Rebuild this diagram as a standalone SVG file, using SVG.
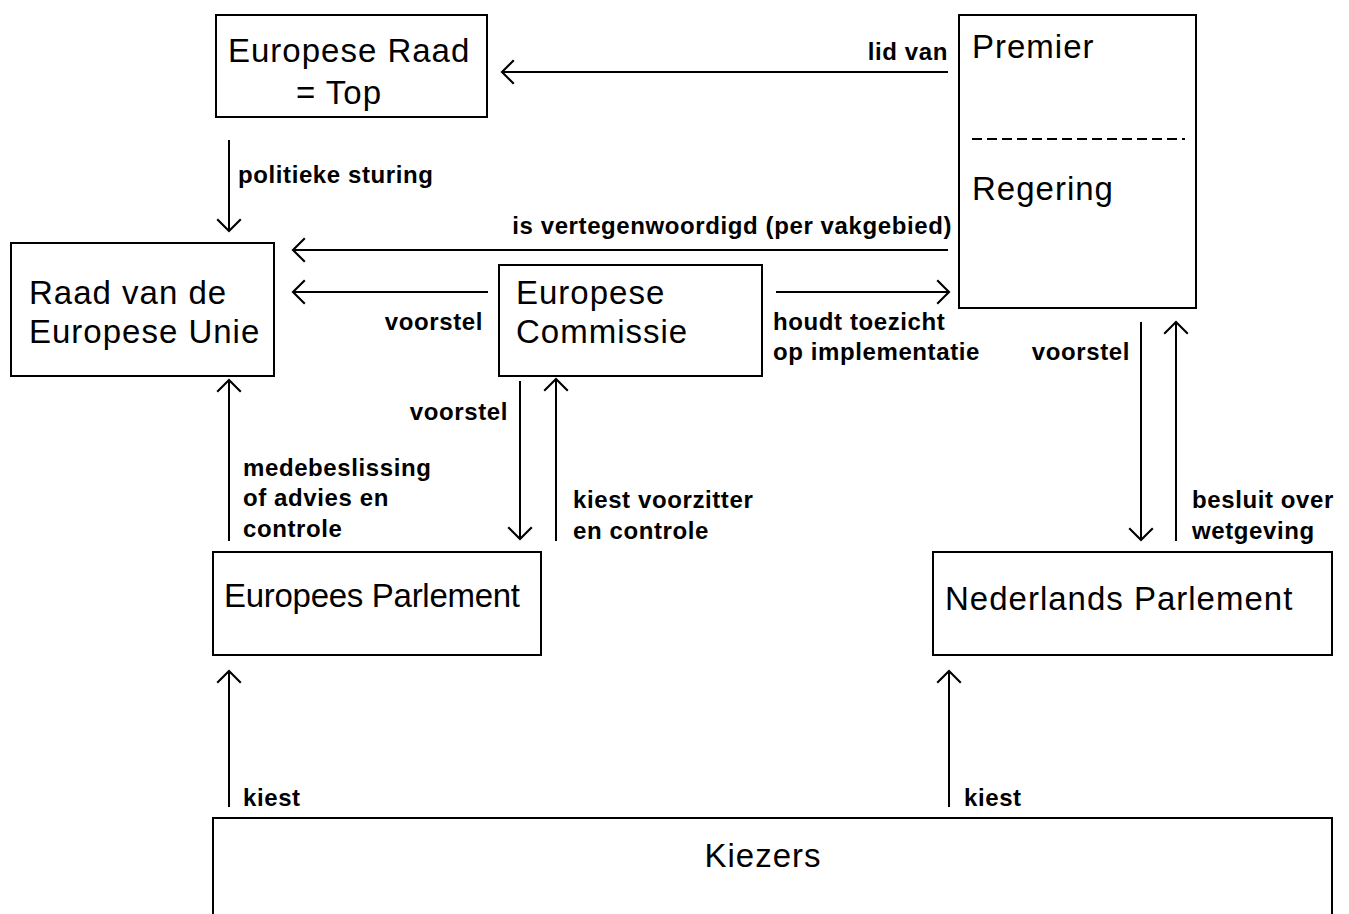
<svg xmlns="http://www.w3.org/2000/svg" width="1349" height="914" viewBox="0 0 1349 914">
<style>
.box{fill:#fff;stroke:#000;stroke-width:2}
.t{font-family:"Liberation Sans",Arial,sans-serif;font-size:33px;letter-spacing:1px;fill:#000}
.l{font-family:"Liberation Sans",Arial,sans-serif;font-size:24px;font-weight:bold;letter-spacing:0.6px;fill:#000}
.c{stroke:#000;stroke-width:2;fill:none;marker-end:url(#ah)}
</style>
<defs>
<marker id="ah" markerUnits="userSpaceOnUse" orient="auto" refX="0" refY="0" markerWidth="30" markerHeight="30" viewBox="-14 -14 28 28" overflow="visible">
<path d="M-11,-11 L0,0 L-11,11" fill="none" stroke="#000" stroke-width="2"/>
</marker>
</defs>
<rect width="1349" height="914" fill="#fff"/>
<g id="europese-raad">
<rect class="box" x="216" y="15" width="271" height="102"/>
<text class="t" x="228" y="62">Europese Raad</text>
<text class="t" x="296" y="104">= Top</text>
</g>
<g id="premier-regering">
<rect class="box" x="959" y="15" width="237" height="293"/>
<text class="t" x="972" y="58">Premier</text>
<line x1="972" y1="139" x2="1185" y2="139" stroke="#000" stroke-width="2" stroke-dasharray="10 5"/>
<text class="t" x="972" y="200">Regering</text>
</g>
<g id="raad-eu">
<rect class="box" x="11" y="243" width="263" height="133"/>
<text class="t" x="29" y="304">Raad van de</text>
<text class="t" x="29" y="343">Europese Unie</text>
</g>
<g id="europese-commissie">
<rect class="box" x="499" y="265" width="263" height="111"/>
<text class="t" x="516" y="304">Europese</text>
<text class="t" x="516" y="343">Commissie</text>
</g>
<g id="europees-parlement">
<rect class="box" x="213" y="552" width="328" height="103"/>
<text class="t" x="224" y="607" style="letter-spacing:0" textLength="296" lengthAdjust="spacing">Europees Parlement</text>
</g>
<g id="nederlands-parlement">
<rect class="box" x="933" y="552" width="399" height="103"/>
<text class="t" x="945" y="610">Nederlands Parlement</text>
</g>
<g id="kiezers">
<rect class="box" x="213" y="818" width="1119" height="120"/>
<text class="t" x="763" y="867" text-anchor="middle">Kiezers</text>
</g>
<g id="connectors">
<line class="c" x1="948" y1="72" x2="502" y2="72"/>
<line class="c" x1="229" y1="140" x2="229" y2="231"/>
<line class="c" x1="948" y1="250" x2="293" y2="250"/>
<line class="c" x1="488" y1="292" x2="293" y2="292"/>
<line class="c" x1="776" y1="292" x2="949" y2="292"/>
<line class="c" x1="520" y1="381" x2="520" y2="539"/>
<line class="c" x1="556" y1="541" x2="556" y2="379"/>
<line class="c" x1="229" y1="541" x2="229" y2="380"/>
<line class="c" x1="1141" y1="322" x2="1141" y2="540"/>
<line class="c" x1="1176" y1="541" x2="1176" y2="322"/>
<line class="c" x1="229" y1="807" x2="229" y2="671"/>
<line class="c" x1="949" y1="807" x2="949" y2="671"/>
<text class="l" x="948" y="60" text-anchor="end">lid van</text>
<text class="l" x="238" y="183">politieke sturing</text>
<text class="l" x="952" y="234" text-anchor="end">is vertegenwoordigd (per vakgebied)</text>
<text class="l" x="483" y="330" text-anchor="end">voorstel</text>
<text class="l" x="773" y="330">houdt toezicht</text>
<text class="l" x="773" y="360">op implementatie</text>
<text class="l" x="508" y="420" text-anchor="end">voorstel</text>
<text class="l" x="1130" y="360" text-anchor="end">voorstel</text>
<text class="l" x="243" y="476">medebeslissing</text>
<text class="l" x="243" y="506">of advies en</text>
<text class="l" x="243" y="537">controle</text>
<text class="l" x="573" y="508">kiest voorzitter</text>
<text class="l" x="573" y="539">en controle</text>
<text class="l" x="1192" y="508">besluit over</text>
<text class="l" x="1192" y="539">wetgeving</text>
<text class="l" x="243" y="806">kiest</text>
<text class="l" x="964" y="806">kiest</text>
</g>
</svg>
